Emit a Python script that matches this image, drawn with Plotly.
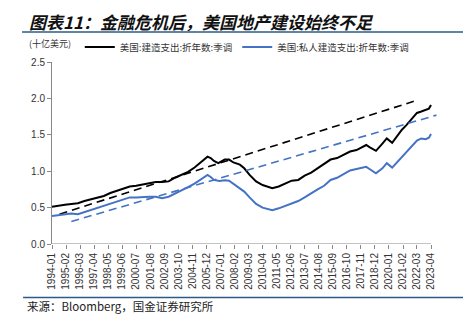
import plotly.graph_objects as go

# ---------------- data ----------------
black_dates = ["1994-01", "1994-07", "1995-01", "1995-07", "1996-01", "1996-07", "1997-01", "1997-07",
               "1998-01", "1998-07", "1999-01", "1999-07", "2000-01", "2000-07", "2001-01", "2001-07",
               "2002-01", "2002-07", "2003-01", "2003-07", "2004-01", "2004-07", "2005-01", "2005-07",
               "2006-01", "2006-04", "2006-07", "2006-11", "2007-05", "2007-09", "2008-01", "2008-07",
               "2008-11", "2009-04", "2009-10", "2010-04", "2010-10", "2011-01", "2011-07", "2012-01",
               "2012-07", "2013-01", "2013-07", "2014-01", "2014-07", "2015-01", "2015-07", "2016-01",
               "2016-07", "2017-01", "2017-07", "2018-01", "2018-04", "2018-07", "2019-01", "2019-07",
               "2019-11", "2020-04", "2020-09", "2021-01", "2021-05", "2021-10", "2022-03", "2022-07",
               "2022-11", "2023-02", "2023-04"]
black_values = [0.51, 0.53, 0.54, 0.55, 0.56, 0.59, 0.61, 0.63,
                0.66, 0.70, 0.73, 0.76, 0.79, 0.80, 0.82, 0.84,
                0.85, 0.85, 0.86, 0.91, 0.95, 0.99, 1.05, 1.12,
                1.20, 1.18, 1.14, 1.11, 1.16, 1.16, 1.12, 1.09,
                1.04, 0.95, 0.86, 0.81, 0.78, 0.765, 0.79, 0.83,
                0.87, 0.88, 0.94, 0.98, 1.04, 1.10, 1.16, 1.18,
                1.23, 1.27, 1.29, 1.34, 1.36, 1.33, 1.28, 1.38,
                1.45, 1.39, 1.50, 1.57, 1.63, 1.72, 1.80, 1.82,
                1.84, 1.86, 1.91]

blue_dates = ["1994-01", "1994-07", "1995-01", "1995-07", "1996-01", "1996-07", "1997-01", "1997-07",
              "1998-01", "1998-07", "1999-01", "1999-07", "2000-01", "2000-07", "2001-01", "2001-07",
              "2002-01", "2002-07", "2003-01", "2003-07", "2004-01", "2004-07", "2005-01", "2005-07",
              "2006-01", "2006-04", "2006-07", "2006-12", "2007-05", "2007-09", "2008-01", "2008-07",
              "2008-11", "2009-04", "2009-10", "2010-04", "2010-10", "2011-01", "2011-07", "2012-01",
              "2012-07", "2013-01", "2013-07", "2014-01", "2014-07", "2015-01", "2015-07", "2016-01",
              "2016-07", "2017-01", "2017-07", "2018-01", "2018-04", "2018-07", "2019-01", "2019-07",
              "2019-11", "2020-04", "2020-09", "2021-01", "2021-05", "2021-10", "2022-03", "2022-07",
              "2022-11", "2023-02", "2023-04"]
blue_values = [0.385, 0.40, 0.41, 0.42, 0.41, 0.44, 0.47, 0.50,
               0.53, 0.56, 0.58, 0.61, 0.64, 0.64, 0.65, 0.65,
               0.65, 0.63, 0.65, 0.69, 0.73, 0.78, 0.83, 0.89,
               0.95, 0.92, 0.88, 0.865, 0.875, 0.87, 0.83, 0.77,
               0.72, 0.64, 0.55, 0.50, 0.48, 0.465, 0.49, 0.52,
               0.56, 0.59, 0.64, 0.70, 0.75, 0.80, 0.88, 0.91,
               0.96, 1.01, 1.03, 1.05, 1.06, 1.03, 0.97, 1.04,
               1.11, 1.05, 1.13, 1.19, 1.26, 1.33, 1.42, 1.45,
               1.44, 1.46, 1.51]

black_trend_dates = ["1994-08", "2021-12"]
black_trend_values = [0.41, 1.96]
blue_trend_dates = ["1995-07", "2023-09"]
blue_trend_values = [0.31, 1.77]

tick_labels = ["1994-01", "1995-02", "1996-03", "1997-04", "1998-05", "1999-06", "2000-07",
               "2001-08", "2002-09", "2003-10", "2004-11", "2005-12", "2007-01", "2008-02",
               "2009-03", "2010-04", "2011-05", "2012-06", "2013-07", "2014-08", "2015-09",
               "2016-10", "2017-11", "2018-12", "2020-01", "2021-02", "2022-03", "2023-04"]

series_names = ["美国:建造支出:折年数:季调", "美国:私人建造支出:折年数:季调"]
title_text = "图表11：金融危机后，美国地产建设始终不足"
unit_text = "(十亿美元)"
source_text = "来源：Bloomberg，国金证券研究所"

BLUE = "#4472C4"
CJK = "Noto Sans CJK SC"
SANS = "Liberation Sans, Arial, sans-serif"

fig = go.Figure()
fig.add_trace(go.Scatter(x=black_dates, y=black_values, mode="lines", name=series_names[0],
                         line=dict(color="#000000", width=2)))
fig.add_trace(go.Scatter(x=black_trend_dates, y=black_trend_values, mode="lines", showlegend=False,
                         line=dict(color="#000000", width=1.6, dash="8px,5px")))
fig.add_trace(go.Scatter(x=blue_dates, y=blue_values, mode="lines", name=series_names[1],
                         line=dict(color=BLUE, width=2)))
fig.add_trace(go.Scatter(x=blue_trend_dates, y=blue_trend_values, mode="lines", showlegend=False,
                         line=dict(color=BLUE, width=1.6, dash="8px,5px")))

fig.update_layout(
    width=463, height=324,
    margin=dict(l=52, r=24.5, t=62, b=80),
    paper_bgcolor="white", plot_bgcolor="white",
    font=dict(family=SANS, size=10, color="#333333"),
    showlegend=True,
    legend=dict(orientation="h", x=0.072, y=1.082, xanchor="left", yanchor="middle",
                font=dict(family=CJK, size=9.5, color="#333333"),
                bgcolor="rgba(0,0,0,0)", itemwidth=30, tracegroupgap=0),
    xaxis=dict(type="date", range=["1994-01-01", "2023-10-15"],
               tickmode="array", tickvals=tick_labels, ticktext=tick_labels,
               tickangle=-90, ticks="outside", ticklen=4, tickcolor="#888888",
               showline=False, showgrid=False, zeroline=False,
               tickfont=dict(family=SANS, size=10, color="#333333")),
    yaxis=dict(range=[0, 2.5], tickmode="array", tickvals=[0, 0.5, 1.0, 1.5, 2.0, 2.5],
               ticktext=["0.0", "0.5", "1.0", "1.5", "2.0", "2.5"],
               ticks="outside", ticklen=4, tickcolor="#888888",
               showline=True, linecolor="#888888", linewidth=1,
               showgrid=False, zeroline=False,
               tickfont=dict(family=SANS, size=10, color="#333333")),
)

# x-axis baseline ending at last tick
fig.add_shape(type="line", xref="x", yref="y", x0=tick_labels[0], x1=tick_labels[-1], y0=0, y1=0,
              line=dict(color="#888888", width=1))
# separator lines
fig.add_shape(type="line", xref="paper", yref="paper", x0=-0.0776, x1=1.07, y0=1.165, y1=1.165,
              line=dict(color="#2A5B86", width=1.5))
fig.add_shape(type="line", xref="paper", yref="paper", x0=-0.075, x1=1.07, y0=-0.294, y1=-0.294,
              line=dict(color="#2A5B86", width=1.5))

fig.add_annotation(text="<b><i>" + title_text + "</i></b>", xref="paper", yref="paper",
                   x=-0.0647, y=1.225, xanchor="left", yanchor="middle", showarrow=False,
                   font=dict(family=CJK, size=17, color="#111111"))
fig.add_annotation(text=unit_text, xref="paper", yref="paper",
                   x=-0.0647, y=1.104, xanchor="left", yanchor="middle", showarrow=False,
                   font=dict(family=CJK, size=9, color="#333333"))
fig.add_annotation(text=source_text, xref="paper", yref="paper",
                   x=-0.07, y=-0.341, xanchor="left", yanchor="middle", showarrow=False,
                   font=dict(family=CJK, size=11.5, color="#222222"))

fig.write_html("out.html")
